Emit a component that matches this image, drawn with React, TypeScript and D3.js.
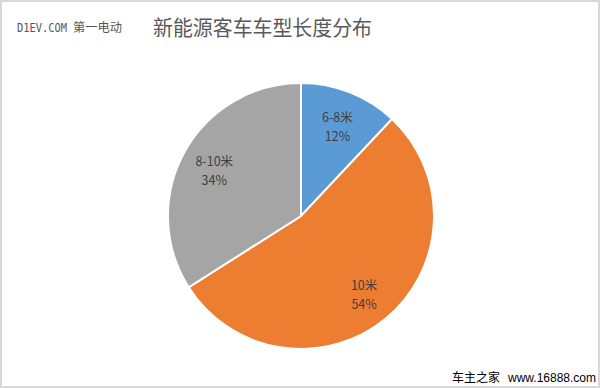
import React from "react";
import * as d3 from "d3";

const categories = ["6-8米", "10米", "8-10米"];
const values = [12, 54, 34];
const colors = ["#5B9BD5", "#ED7D31", "#A5A5A5"];

const W = 600, H = 388;
const cx = 301, cy = 216, R = 133;

export default function App() {
  const pie = d3.pie<number>().sort(null).value((d) => d)(values);
  const arc = d3.arc<d3.PieArcDatum<number>>().innerRadius(0).outerRadius(R);
  const labelArc = d3.arc<d3.PieArcDatum<number>>().innerRadius(99).outerRadius(99);
  const total = d3.sum(values);
  return (
    <svg width={W} height={H} style={{ position: "absolute", left: 0, top: 0, background: "#fff" }}>
      <rect x={1} y={1} width={W - 2} height={H - 2} fill="#fff" stroke="#d9d9d9" strokeWidth={2} />
      <text x={17} y={32} fontFamily="'DejaVu Sans Mono', monospace" fontSize={11.5} fill="#555" textLength={50} lengthAdjust="spacingAndGlyphs">D1EV.COM</text>
      <text x={73} y={32} fontFamily="'Noto Sans CJK SC', sans-serif" fontSize={12} fill="#555" textLength={49} lengthAdjust="spacingAndGlyphs">第一电动</text>
      <text x={153} y={35} fontFamily="'Noto Sans CJK SC', sans-serif" fontSize={21} fill="#595959" textLength={219} lengthAdjust="spacingAndGlyphs">新能源客车车型长度分布</text>
      <g transform={`translate(${cx},${cy})`}>
        {pie.map((p, i) => (
          <path key={i} d={arc(p) || ""} fill={colors[i]} stroke="#fff" strokeWidth={2} />
        ))}
        {pie.map((p, i) => {
          const [x, y] = labelArc.centroid(p);
          return (
            <text key={"l" + i} x={x} y={y} textAnchor="middle" fontFamily="'Noto Sans CJK SC', sans-serif" fontSize={12.5} fill="#404040">
              <tspan x={x} dy={-2}>{categories[i]}</tspan>
              <tspan x={x} dy={19}>{Math.round((values[i] / total) * 100)}%</tspan>
            </text>
          );
        })}
      </g>
      <text x={452} y={382} fontFamily="'Noto Sans CJK SC', sans-serif" fontSize={12} fill="#000">车主之家</text>
      <text x={508} y={382} fontFamily="'Liberation Sans', Arial, sans-serif" fontSize={12} fill="#000">www.16888.com</text>
    </svg>
  );
}
